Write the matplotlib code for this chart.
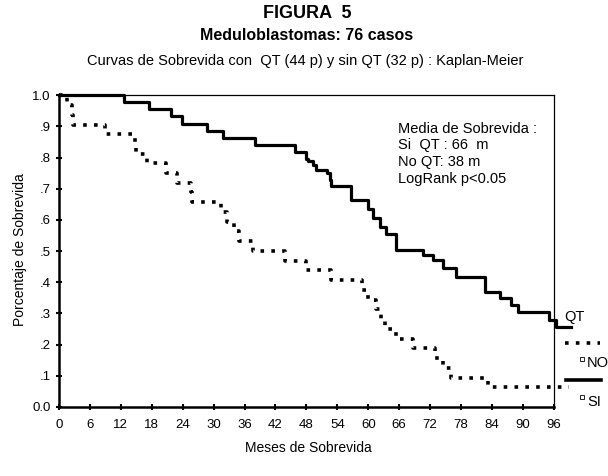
import matplotlib
matplotlib.use("Agg")
import matplotlib.pyplot as plt

plt.rcParams['font.family'] = ['Liberation Sans', 'DejaVu Sans']

# Kaplan-Meier steps, con QT (44 p)
qt_t = [0, 12.6, 17.4, 21.8, 23.8, 28.7, 31.8, 38.0, 45.7, 47.9, 48.3, 49.3, 49.9,
        51.9, 52.5, 52.8, 56.7, 59.9, 61.0, 62.2, 63.5, 65.4, 70.6, 72.5, 74.5,
        77.0, 82.7, 85.5, 87.7, 89.0, 95.0, 96.4, 99.3]
qt_s = [1.0, 0.977, 0.955, 0.932, 0.909, 0.886, 0.864, 0.841, 0.818, 0.795, 0.79,
        0.776, 0.76, 0.749, 0.728, 0.708, 0.664, 0.636, 0.605, 0.578, 0.555, 0.503,
        0.487, 0.471, 0.445, 0.416, 0.37, 0.348, 0.327, 0.305, 0.279, 0.255, 0.255]

# sin QT (32 p)
no_t = [0, 1.5, 2.5, 2.7, 9.0, 14.7, 15.0, 17.0, 20.7, 22.8, 25.7, 25.9, 31.5,
        32.5, 34.0, 35.0, 37.6, 43.8, 48.0, 52.8, 58.7, 60.0, 61.5, 62.5, 63.2,
        65.4, 68.6, 72.9, 74.5, 76.1, 83.2, 99.0]
no_s = [1.0, 0.969, 0.938, 0.906, 0.875, 0.844, 0.813, 0.781, 0.75, 0.719, 0.688,
        0.656, 0.625, 0.594, 0.563, 0.531, 0.5, 0.469, 0.438, 0.406, 0.375, 0.344,
        0.313, 0.281, 0.25, 0.219, 0.188, 0.156, 0.125, 0.094, 0.0625, 0.0625]

x_ticks = list(range(0, 97, 6))
y_ticks = [0, .1, .2, .3, .4, .5, .6, .7, .8, .9, 1.0]
y_labels = ["0.0", ".1", ".2", ".3", ".4", ".5", ".6", ".7", ".8", ".9", "1.0"]

fig = plt.figure(figsize=(6.08, 4.76), dpi=100)
ax = fig.add_axes([0.097, 0.145, 0.814, 0.655])

dots = (0, (1, 2.0))
ax.step(qt_t, qt_s, where='post', color='black', lw=2.3, clip_on=False)
ax.step(no_t, no_s, where='post', color='black', lw=2.6, ls=dots, clip_on=False)

ax.set_xlim(0, 96)
ax.set_ylim(0, 1.0)
ax.set_xticks(x_ticks)
ax.set_xticklabels([str(v) for v in x_ticks], fontsize=9.5)
ax.set_yticks(y_ticks)
ax.set_yticklabels(y_labels, fontsize=9.5)
ax.tick_params(axis='x', direction='inout', length=4, width=1.5, pad=7)
ax.tick_params(axis='y', direction='inout', length=4, width=1.5, pad=4)

for side in ['left', 'bottom']:
    ax.spines[side].set_linewidth(1.8)
for side in ['top', 'right']:
    ax.spines[side].set_linewidth(0.9)

ax.text(65.7, 0.915, "Media de Sobrevida :\nSi  QT : 66  m\nNo QT: 38 m\nLogRank p<0.05",
        fontsize=10.5, va='top', ha='left', linespacing=1.25)

# labels at the right end
ax.text(98.1, 0.288, "QT", fontsize=10.5, va='center', ha='left', clip_on=False)
ax.plot([98.1, 104.9], [0.205, 0.205], color='black', lw=2.6, ls=dots, clip_on=False)
ax.plot([101.5], [0.154], marker='s', ms=2.5, mfc='white', mec='black', mew=0.6, clip_on=False)
ax.text(102.4, 0.141, "NO", fontsize=10.5, va='center', ha='left', clip_on=False)
ax.plot([98.3, 105.1], [0.087, 0.087], color='black', lw=2.6, clip_on=False)
ax.plot([101.5], [0.032], marker='s', ms=2.5, mfc='white', mec='black', mew=0.6, clip_on=False)
ax.text(102.4, 0.016, "SI", fontsize=10.5, va='center', ha='left', clip_on=False)

fig.text(0.505, 0.972, "FIGURA  5", fontsize=13, fontweight='bold', ha='center', va='center')
fig.text(0.505, 0.926, "Meduloblastomas: 76 casos", fontsize=11.5, fontweight='bold', ha='center', va='center')
fig.text(0.502, 0.872, "Curvas de Sobrevida con  QT (44 p) y sin QT (32 p) : Kaplan-Meier",
         fontsize=10.5, ha='center', va='center')
fig.text(0.507, 0.059, "Meses de Sobrevida", fontsize=10, ha='center', va='center')
fig.text(0.033, 0.475, "Porcentaje de Sobrevida", fontsize=10, ha='center', va='center', rotation=90)

fig.savefig("out.png", dpi=100)
